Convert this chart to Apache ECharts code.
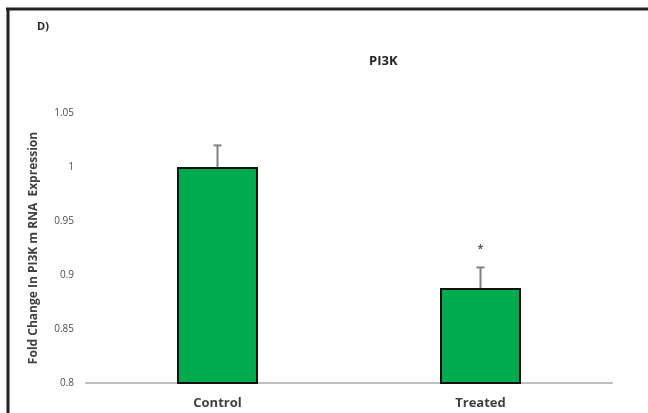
<!DOCTYPE html>
<html>
<head>
<meta charset="utf-8">
<script src="https://cdn.jsdelivr.net/npm/echarts@6/dist/echarts.min.js"></script>
<style>
html,body{margin:0;padding:0;background:#fff;}
#chart{width:648px;height:413px;}
</style>
</head>
<body>
<div id="chart"></div>
<script>
// PI3K mRNA fold change, control vs treated
const categories = ['Control', 'Treated'];
const meanValues = [1.0, 0.888];
const errorValues = [0.02, 0.019];
const significance = ['', '*'];
const yTicks = [0.8, 0.85, 0.9, 0.95, 1, 1.05];

const chart = echarts.init(document.getElementById('chart'));

const font = 'Open Sans, Liberation Sans, sans-serif';

chart.setOption({
  backgroundColor: '#ffffff',
  animation: false,
  title: {
    text: 'PI3K',
    left: 364,
    top: 50,
    textStyle: { fontFamily: font, fontSize: 13, fontWeight: 'bold', color: '#262626' }
  },
  graphic: [
    { type: 'text', left: 37, top: 21, style: { text: 'D)', font: 'bold 11px ' + font, fill: '#262626' } },
    { type: 'line', shape: { x1: 6, y1: 9, x2: 648, y2: 9 }, style: { stroke: '#222', lineWidth: 3 } },
    { type: 'line', shape: { x1: 8, y1: 8, x2: 8, y2: 413 }, style: { stroke: '#222', lineWidth: 3 } }
  ],
  grid: { left: 86, right: 36, top: 113, bottom: 30 },
  xAxis: {
    type: 'category',
    data: categories,
    axisLine: { lineStyle: { color: '#bfbfbf', width: 2 } },
    axisTick: { show: false },
    axisLabel: { margin: 14, fontFamily: font, fontSize: 13, fontWeight: 'bold', color: '#404040' }
  },
  yAxis: {
    type: 'value',
    min: 0.8,
    max: 1.05,
    interval: 0.05,
    name: 'Fold Change In PI3K m RNA  Expression',
    nameLocation: 'middle',
    nameGap: 46,
    nameTextStyle: { fontFamily: font, fontSize: 12, fontWeight: 'bold', color: '#404040' },
    splitLine: { show: false },
    axisLine: { show: false },
    axisTick: { show: false },
    axisLabel: {
      margin: 12,
      fontFamily: font, fontSize: 10, color: '#4d4d4d',
      formatter: v => {
        const t = yTicks.find(x => Math.abs(x - v) < 1e-9);
        return t === undefined ? '' : String(t);
      }
    }
  },
  series: [
    {
      type: 'bar',
      data: meanValues,
      barWidth: 81,
      itemStyle: { color: '#00ab4e', borderColor: '#111', borderWidth: 2 }
    },
    {
      type: 'custom',
      data: meanValues.map((v, i) => [i, v, errorValues[i], significance[i]]),
      renderItem: (params, api) => {
        const i = api.value(0);
        const top = api.coord([i, api.value(1) + api.value(2)]);
        const base = api.coord([i, api.value(1)]);
        const half = 4;
        const children = [
          { type: 'line', shape: { x1: top[0], y1: top[1], x2: base[0], y2: base[1] }, style: { stroke: '#808080', lineWidth: 2 } },
          { type: 'line', shape: { x1: top[0] - half, y1: top[1], x2: top[0] + half, y2: top[1] }, style: { stroke: '#808080', lineWidth: 2 } }
        ];
        const sig = significance[i];
        if (sig) {
          children.push({ type: 'text', style: { text: sig, x: top[0], y: top[1] - 18, align: 'center', verticalAlign: 'middle', font: 'bold 10px ' + font, fill: '#595959' } });
        }
        return { type: 'group', children };
      },
      z: 5
    }
  ]
});
</script>
</body>
</html>
